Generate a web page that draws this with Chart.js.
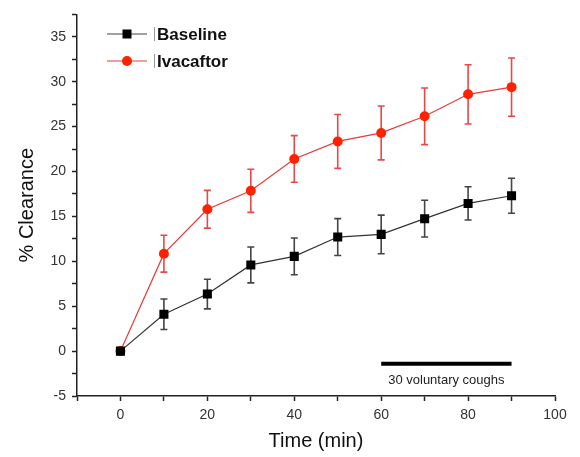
<!DOCTYPE html>
<html>
<head>
<meta charset="utf-8">
<script src="https://cdn.jsdelivr.net/npm/chart.js@4"></script>
<style>
  html, body { margin: 0; padding: 0; background: #fff; }
  #wrap { width: 580px; height: 457px; position: relative; }
</style>
</head>
<body>
<div id="wrap"><canvas id="Chart"></canvas></div>
<script>
// data
const times = [0, 10, 20, 30, 40, 50, 60, 70, 80, 90];
const baseline = [0, 4.1, 6.35, 9.6, 10.55, 12.7, 13.0, 14.75, 16.45, 17.3];
const baselineErr = [0, 1.7, 1.65, 2.0, 2.05, 2.05, 2.15, 2.05, 1.85, 1.95];
const ivacaftor = [0, 10.85, 15.8, 17.85, 21.4, 23.35, 24.3, 26.15, 28.6, 29.4];
const ivacaftorErr = [0, 2.05, 2.1, 2.4, 2.6, 3.0, 3.0, 3.15, 3.3, 3.25];
const coughStart = 60, coughEnd = 90;
const coughLabel = '30 voluntary coughs';

const FONT = 'Arial, "Liberation Sans", sans-serif';

function pts(ys) {
  return times.map((t, i) => ({ x: t, y: ys[i] }));
}

// error bars, drawn from the data through the scales
const errorBars = {
  id: 'errorBars',
  beforeDatasetsDraw(chart) {
    const ctx = chart.ctx;
    const xs = chart.scales.x, ys = chart.scales.y;
    const sets = [[baseline, baselineErr, '#444'], [ivacaftor, ivacaftorErr, '#e84848']];
    ctx.save();
    sets.forEach(([vals, errs, col]) => {
      ctx.strokeStyle = col;
      ctx.lineWidth = 1.6;
      vals.forEach((v, i) => {
        if (!errs[i]) return;
        const x = xs.getPixelForValue(times[i]);
        const top = ys.getPixelForValue(v + errs[i]);
        const bot = ys.getPixelForValue(v - errs[i]);
        ctx.beginPath();
        ctx.moveTo(x, top); ctx.lineTo(x, bot);
        ctx.moveTo(x - 3.5, top); ctx.lineTo(x + 3.5, top);
        ctx.moveTo(x - 3.5, bot); ctx.lineTo(x + 3.5, bot);
        ctx.stroke();
      });
    });
    ctx.restore();
  }
};

// cough bar annotation + legend
const extras = {
  id: 'extras',
  afterDraw(chart) {
    const ctx = chart.ctx;
    const xs = chart.scales.x, ys = chart.scales.y;
    ctx.save();
    // bar
    const yb = ys.getPixelForValue(-1.4);
    ctx.strokeStyle = '#000';
    ctx.lineWidth = 4;
    ctx.beginPath();
    ctx.moveTo(xs.getPixelForValue(coughStart), yb);
    ctx.lineTo(xs.getPixelForValue(coughEnd), yb);
    ctx.stroke();
    ctx.fillStyle = '#222';
    ctx.font = '13px ' + FONT;
    ctx.textAlign = 'center';
    ctx.textBaseline = 'middle';
    ctx.fillText(coughLabel, xs.getPixelForValue((coughStart + coughEnd) / 2), ys.getPixelForValue(-3.25));

    // legend
    const items = [
      { label: 'Baseline', line: '#444', mark: '#000', style: 'rect', y: 34 },
      { label: 'Ivacaftor', line: '#e83a3a', mark: '#ff2200', style: 'circle', y: 61 }
    ];
    items.forEach(it => {
      ctx.strokeStyle = it.line;
      ctx.lineWidth = 1.2;
      ctx.beginPath();
      ctx.moveTo(107, it.y); ctx.lineTo(147, it.y);
      ctx.stroke();
      ctx.fillStyle = it.mark;
      if (it.style === 'rect') {
        ctx.fillRect(127 - 4.5, it.y - 4.5, 9, 9);
      } else {
        ctx.beginPath();
        ctx.arc(127, it.y, 5, 0, Math.PI * 2);
        ctx.fill();
      }
      ctx.strokeStyle = '#999';
      ctx.lineWidth = 1;
      ctx.beginPath();
      ctx.moveTo(154.5, it.y - 7); ctx.lineTo(154.5, it.y + 7);
      ctx.stroke();
      ctx.fillStyle = '#111';
      ctx.font = 'bold 17px ' + FONT;
      ctx.textAlign = 'left';
      ctx.textBaseline = 'middle';
      ctx.fillText(it.label, 157, it.y + 1);
    });
    ctx.restore();
  }
};

const ctx = document.getElementById('Chart').getContext('2d');
new Chart(ctx, {
  type: 'line',
  data: {
    datasets: [
      {
        label: 'Baseline',
        data: pts(baseline),
        borderColor: '#333',
        borderWidth: 1.2,
        pointStyle: 'rect',
        pointRadius: 6.4,
        pointBackgroundColor: '#000',
        pointBorderWidth: 0,
        tension: 0
      },
      {
        label: 'Ivacaftor',
        data: pts(ivacaftor),
        borderColor: '#e83a3a',
        borderWidth: 1.2,
        pointStyle: 'circle',
        pointRadius: 5,
        pointBackgroundColor: '#ff2200',
        pointBorderWidth: 0,
        tension: 0
      }
    ]
  },
  options: {
    responsive: true,
    maintainAspectRatio: false,
    animation: false,
    layout: { padding: { top: 11, right: 25, left: 0, bottom: 0 } },
    plugins: {
      legend: { display: false },
      tooltip: { enabled: false }
    },
    scales: {
      x: {
        type: 'linear',
        min: -10,
        max: 100,
        afterFit(s) { s.height = 61; },
        ticks: {
          stepSize: 10,
          autoSkip: false,
          maxRotation: 0,
          padding: 6,
          color: '#333',
          font: { size: 14, family: FONT },
          callback: v => (v % 20 === 0 ? v : '')
        },
        grid: { drawOnChartArea: false, tickLength: 5, tickColor: '#222', tickWidth: 1.5 },
        border: { color: '#222', width: 1.5 },
        title: {
          display: true,
          text: 'Time (min)',
          color: '#111',
          font: { size: 20, family: FONT },
          padding: { top: 10 }
        }
      },
      y: {
        type: 'linear',
        min: -5,
        max: 37.5,
        afterFit(s) { s.width = 77; },
        ticks: {
          stepSize: 2.5,
          autoSkip: false,
          padding: 6,
          color: '#333',
          font: { size: 14, family: FONT },
          callback: v => (Math.abs(v % 5) < 1e-6 ? v : '')
        },
        grid: { drawOnChartArea: false, tickLength: 5, tickColor: '#222', tickWidth: 1.5 },
        border: { color: '#222', width: 1.5 },
        title: {
          display: true,
          text: '% Clearance',
          color: '#111',
          font: { size: 20, family: FONT },
          padding: { top: 15, bottom: 0 }
        }
      }
    }
  },
  plugins: [errorBars, extras]
});
</script>
</body>
</html>
